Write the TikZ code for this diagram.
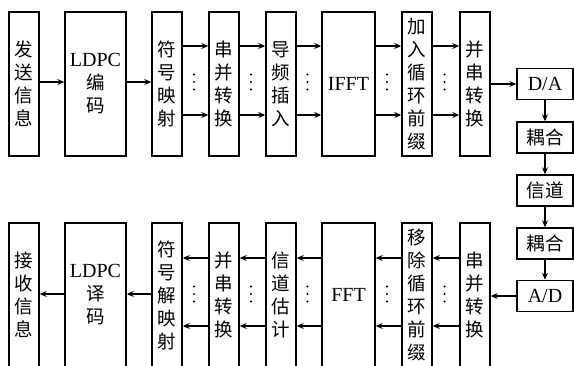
\documentclass[tikz,border=0pt]{standalone}
\usepackage{fontspec}
\setmainfont{Liberation Serif}
\newfontfamily\cjk{Noto Sans CJK SC}
\usetikzlibrary{arrows.meta,calc}
\tikzset{
  blk/.style={draw, line width=1.5pt, inner sep=0pt, align=center,
    font=\cjk\fontsize{18.5}{23}\selectfont},
  tall/.style={blk, minimum width=30pt, minimum height=144pt},
  wide/.style={blk, minimum width=61pt, minimum height=144pt},
  fftbox/.style={blk, minimum width=53pt, minimum height=144pt},
  side/.style={blk, minimum width=56pt, minimum height=31pt},
  arr/.style={line width=1.5pt, -{Stealth[length=7pt,width=6pt,inset=2.5pt]}},
  dotc/.style={fill=black}
}
\newcommand{\lt}[1]{{\fontsize{20}{23}\selectfont\rmfamily #1}}
\begin{document}
\begin{tikzpicture}[x=1pt,y=-1pt]
\useasboundingbox (0,0) rectangle (574,365);
\clip (0,0) rectangle (574,365);
% top row
\node[tall] (t1) at (24,84) {发\\送\\信\\息};
\node[wide] (t2) at (95.5,84) {\lt{LDPC}\\编\\码};
\node[tall] (t3) at (167,84) {符\\号\\映\\射};
\node[tall] (t4) at (224,84) {串\\并\\转\\换};
\node[tall] (t5) at (281,84) {导\\频\\插\\入};
\node[fftbox] (t6) at (348.5,84) {\lt{IFFT}};
\node[tall] (t7) at (417,84) {加\\入\\循\\环\\前\\缀};
\node[tall] (t8) at (475,84) {并\\串\\转\\换};
% right column
\node[side] (da) at (545,84) {\lt{D/A}};
\node[side] (c1) at (545,137.5) {耦合};
\node[side] (ch) at (545,190.5) {信道};
\node[side] (c2) at (545,243.5) {耦合};
\node[side] (ad) at (545,296) {\lt{A/D}};
% bottom row
\node[tall] (b1) at (24,295) {接\\收\\信\\息};
\node[wide] (b2) at (95.5,295) {\lt{LDPC}\\译\\码};
\node[tall] (b3) at (167,295) {符\\号\\解\\映\\射};
\node[tall] (b4) at (224,295) {并\\串\\转\\换};
\node[tall] (b5) at (281,295) {信\\道\\估\\计};
\node[fftbox] (b6) at (348.5,295) {\lt{FFT}};
\node[tall] (b7) at (417,295) {移\\除\\循\\环\\前\\缀};
\node[tall] (b8) at (475,295) {串\\并\\转\\换};
% reference levels
\coordinate (yTu) at (0,46);
\coordinate (yTm) at (0,82);
\coordinate (yTl) at (0,115);
\coordinate (yBu) at (0,258);
\coordinate (yBm) at (0,294);
\coordinate (yBl) at (0,326);
% top arrows
\draw[arr] (t1.east |- yTm) -- (t2.west |- yTm);
\draw[arr] (t2.east |- yTm) -- (t3.west |- yTm);
\foreach \a/\b in {t3/t4,t4/t5,t5/t6,t6/t7,t7/t8}{
  \draw[arr] (\a.east |- yTu) -- (\b.west |- yTu);
  \draw[arr] (\a.east |- yTl) -- (\b.west |- yTl);
}
\draw[arr] (t8.east |- da) -- (da.west);
\draw[arr] (da) -- (c1);
\draw[arr] (c1) -- (ch);
\draw[arr] (ch) -- (c2);
\draw[arr] (c2) -- (ad);
\draw[arr] (ad.west) -- (b8.east |- ad);
% bottom arrows
\foreach \a/\b in {b8/b7,b7/b6,b6/b5,b5/b4,b4/b3}{
  \draw[arr] (\a.west |- yBu) -- (\b.east |- yBu);
  \draw[arr] (\a.west |- yBl) -- (\b.east |- yBl);
}
\draw[arr] (b3.west |- yBm) -- (b2.east |- yBm);
\draw[arr] (b2.west |- yBm) -- (b1.east |- yBm);
% dots
\foreach \a/\b in {t3/t4,t4/t5,t5/t6,t6/t7,t7/t8}{
  \foreach \d in {-7.5,0,7.5}{
    \fill[dotc] ($(\a.east)!0.5!(\b.west)+(-1.5,\d-2)$) circle (1.2pt);
  }
}
\foreach \a/\b in {b3/b4,b4/b5,b5/b6,b6/b7,b7/b8}{
  \foreach \d in {-7.5,0,7.5}{
    \fill[dotc] ($(\a.east)!0.5!(\b.west)+(-1.5,\d-1)$) circle (1.2pt);
  }
}
\end{tikzpicture}
\end{document}
